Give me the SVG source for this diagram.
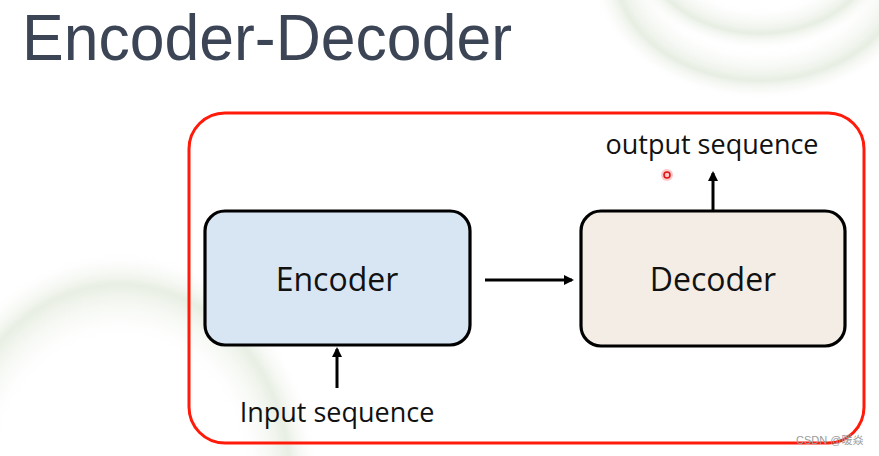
<svg xmlns="http://www.w3.org/2000/svg" width="879" height="456" viewBox="0 0 879 456">
<defs>
<style>
.box{stroke:#000;stroke-width:3.2}
.lbl{font-family:"Open Sans","Liberation Sans",sans-serif;fill:#111}
.conn{stroke:#000;stroke-width:3;fill:none}
</style>
<marker id="ah" markerWidth="10" markerHeight="10" refX="8" refY="5" orient="auto" markerUnits="userSpaceOnUse">
<path d="M0,0 L10,5 L0,10 Z" fill="#000"/>
</marker>
<radialGradient id="sw" cx="0.5" cy="0.5" r="0.5">
<stop offset="0.6" stop-color="#fff" stop-opacity="0"/>
<stop offset="0.85" stop-color="#dfe8d8" stop-opacity="0.8"/>
<stop offset="1" stop-color="#fff" stop-opacity="0"/>
</radialGradient>
</defs>
<rect width="879" height="456" fill="#fff"/>
<g id="background" opacity="0.9">
<ellipse cx="760" cy="-30" rx="170" ry="130" fill="url(#sw)"/>
<ellipse cx="760" cy="-60" rx="140" ry="110" fill="url(#sw)"/>
<ellipse cx="120" cy="480" rx="200" ry="230" fill="url(#sw)"/>
</g>
<text x="22" y="60" font-family="'Liberation Sans',sans-serif" font-size="64" fill="#3b4556" textLength="490" lengthAdjust="spacingAndGlyphs">Encoder-Decoder</text>
<rect x="189" y="113" width="675" height="330" rx="36" fill="none" stroke="#ff1a0a" stroke-width="3"/>
<g id="encoder">
<rect class="box" x="205" y="211" width="265" height="134" rx="20" fill="#d8e6f4"/>
<text class="lbl" x="337" y="291" font-size="32" text-anchor="middle">Encoder</text>
</g>
<g id="decoder">
<rect class="box" x="581" y="211" width="264" height="135" rx="20" fill="#f3ede5"/>
<text class="lbl" x="713" y="291" font-size="32" text-anchor="middle">Decoder</text>
</g>
<g id="output">
<text class="lbl" x="712" y="154" font-size="27" text-anchor="middle">output sequence</text>
</g>
<g id="input">
<text class="lbl" x="337" y="422" font-size="27" text-anchor="middle">Input sequence</text>
</g>
<g id="connectors">
<line class="conn" x1="485" y1="280" x2="572" y2="280" marker-end="url(#ah)"/>
<line class="conn" x1="713" y1="210" x2="713" y2="173" marker-end="url(#ah)"/>
<line class="conn" x1="337" y1="388" x2="337" y2="349" marker-end="url(#ah)"/>
</g>
<circle cx="667" cy="175" r="6" fill="#ff6060" opacity="0.35"/>
<circle cx="667" cy="175" r="3" fill="none" stroke="#e01010" stroke-width="1.5"/>
<text x="796" y="444" font-family="'Liberation Sans','Noto Sans CJK SC',sans-serif" font-size="11" fill="#999">CSDN @暖焱</text>
</svg>
